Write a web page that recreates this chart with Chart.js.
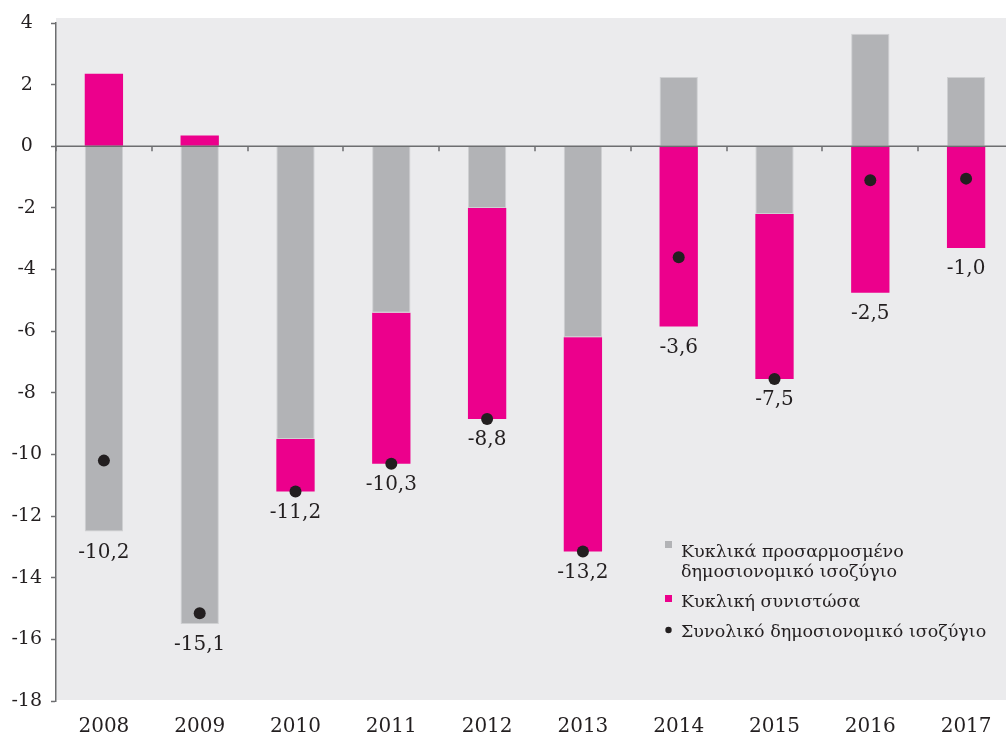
<!DOCTYPE html>
<html>
<head>
<meta charset="utf-8">
<script src="https://cdn.jsdelivr.net/npm/chart.js@4.4.1/dist/chart.umd.min.js"></script>
<style>
  html, body { margin: 0; padding: 0; background: #fff; overflow: hidden; }
  #wrap { width: 1020px; height: 734px; }
</style>
</head>
<body>
<div id="wrap"><canvas id="chart" width="1020" height="734"></canvas></div>
<script>
// values
const years = ['2008', '2009', '2010', '2011', '2012', '2013', '2014', '2015', '2016', '2017'];
const cycAdjusted = [-12.5, -15.5, -9.5, -5.4, -2.0, -6.2, 2.25, -2.2, 3.65, 2.25];
const cyclical = [2.35, 0.35, -1.7, -4.9, -6.85, -6.95, -5.85, -5.35, -4.75, -3.3];
const overall = [-10.2, -15.15, -11.2, -10.3, -8.85, -13.15, -3.6, -7.55, -1.1, -1.05];
const overallLabels = ['-10,2', '-15,1', '-11,2', '-10,3', '-8,8', '-13,2', '-3,6', '-7,5', '-2,5', '-1,0'];
const yMin = -18;
const yMax = 4;
const yStep = 2;
const legendNames = [
  ['Κυκλικά προσαρμοσμένο', 'δημοσιονομικό ισοζύγιο'],
  ['Κυκλική συνιστώσα'],
  ['Συνολικό δημοσιονομικό ισοζύγιο']
];

const GREY = '#b2b3b6';
const MAGENTA = '#ec008c';
const DOT = '#231f20';
const AXIS = '#6d6e70';
const PLOT_BG = '#ebebed';
const FONT = "'DejaVu Serif', serif";

Chart.defaults.font.family = FONT;
Chart.defaults.color = '#231f20';

const plotBg = {
  id: 'plotBg',
  beforeDraw(chart) {
    const { ctx, chartArea: a } = chart;
    ctx.save();
    ctx.fillStyle = '#fff';
    ctx.fillRect(0, 0, chart.width, chart.height);
    ctx.fillStyle = PLOT_BG;
    ctx.fillRect(a.left, a.top - 5, a.right - a.left, a.bottom - a.top + 4);
    ctx.restore();
  }
};

const extras = {
  id: 'extras',
  afterDatasetsDraw(chart) {
    const { ctx, chartArea: a } = chart;
    const xs = chart.scales.x, ys = chart.scales.y;
    const zeroY = ys.getPixelForValue(0);
    ctx.save();

    // zero line with category boundary ticks
    ctx.strokeStyle = AXIS;
    ctx.lineWidth = 1.5;
    ctx.beginPath();
    ctx.moveTo(a.left, zeroY);
    ctx.lineTo(a.right, zeroY);
    for (let i = 0; i <= years.length; i++) {
      const bx = Math.round(xs.getPixelForValue(i - 0.5));
      ctx.moveTo(bx, zeroY);
      ctx.lineTo(bx, zeroY + 5);
    }
    ctx.stroke();

    // overall balance labels under the bars
    ctx.fillStyle = '#231f20';
    ctx.font = '20px ' + FONT;
    ctx.textAlign = 'center';
    ctx.textBaseline = 'middle';
    overallLabels.forEach((txt, i) => {
      const low = Math.min(0, cycAdjusted[i]) + Math.min(0, cyclical[i]);
      ctx.fillText(txt, xs.getPixelForValue(i), ys.getPixelForValue(low) + 21);
    });

    // legend inside the plot
    const lx = 665, tx = 681;
    const rows = [552, 602, 632];
    ctx.textAlign = 'left';
    ctx.font = '17.5px ' + FONT;
    legendNames.forEach((lines, k) => {
      lines.forEach((ln, j) => ctx.fillText(ln, tx, rows[k] + j * 20));
    });
    ctx.fillStyle = GREY;
    ctx.fillRect(lx, rows[0] - 11, 7, 7);
    ctx.fillStyle = MAGENTA;
    ctx.fillRect(lx, rows[1] - 7, 7, 7);
    ctx.fillStyle = DOT;
    ctx.beginPath();
    ctx.arc(lx + 3.5, rows[2] - 2, 3.2, 0, Math.PI * 2);
    ctx.fill();
    ctx.restore();
  }
};

new Chart(document.getElementById('chart'), {
  type: 'bar',
  data: {
    labels: years,
    datasets: [
      {
        type: 'line',
        label: 'Συνολικό δημοσιονομικό ισοζύγιο',
        data: overall,
        stack: 'total',
        showLine: false,
        pointRadius: 6,
        pointBackgroundColor: DOT,
        pointBorderWidth: 0,
        order: 0
      },
      {
        label: 'Κυκλικά προσαρμοσμένο δημοσιονομικό ισοζύγιο',
        data: cycAdjusted,
        backgroundColor: GREY,
        borderColor: '#cfd0d2',
        borderWidth: 1,
        stack: 'bars',
        order: 1
      },
      {
        label: 'Κυκλική συνιστώσα',
        data: cyclical,
        backgroundColor: MAGENTA,
        stack: 'bars',
        order: 2
      }
    ]
  },
  options: {
    responsive: false,
    animation: false,
    layout: { padding: { top: 23, right: 4, left: 0, bottom: 0 } },
    datasets: { bar: { categoryPercentage: 1, barPercentage: 0.4 } },
    plugins: { legend: { display: false }, tooltip: { enabled: false } },
    scales: {
      x: {
        stacked: true,
        grid: { display: false },
        border: { display: false },
        ticks: { font: { size: 20 }, padding: 6, color: '#231f20' },
        afterFit(s) { s.height = 33; }
      },
      y: {
        stacked: true,
        min: yMin,
        max: yMax,
        ticks: { stepSize: yStep, font: { size: 19 }, crossAlign: 'center', padding: 9, color: '#231f20' },
        grid: { drawOnChartArea: false, drawTicks: true, tickLength: 5, tickColor: AXIS, tickWidth: 1.5 },
        border: { display: true, color: AXIS, width: 1.5 },
        afterFit(s) { s.width = 56; }
      }
    }
  },
  plugins: [plotBg, extras]
});
</script>
</body>
</html>
